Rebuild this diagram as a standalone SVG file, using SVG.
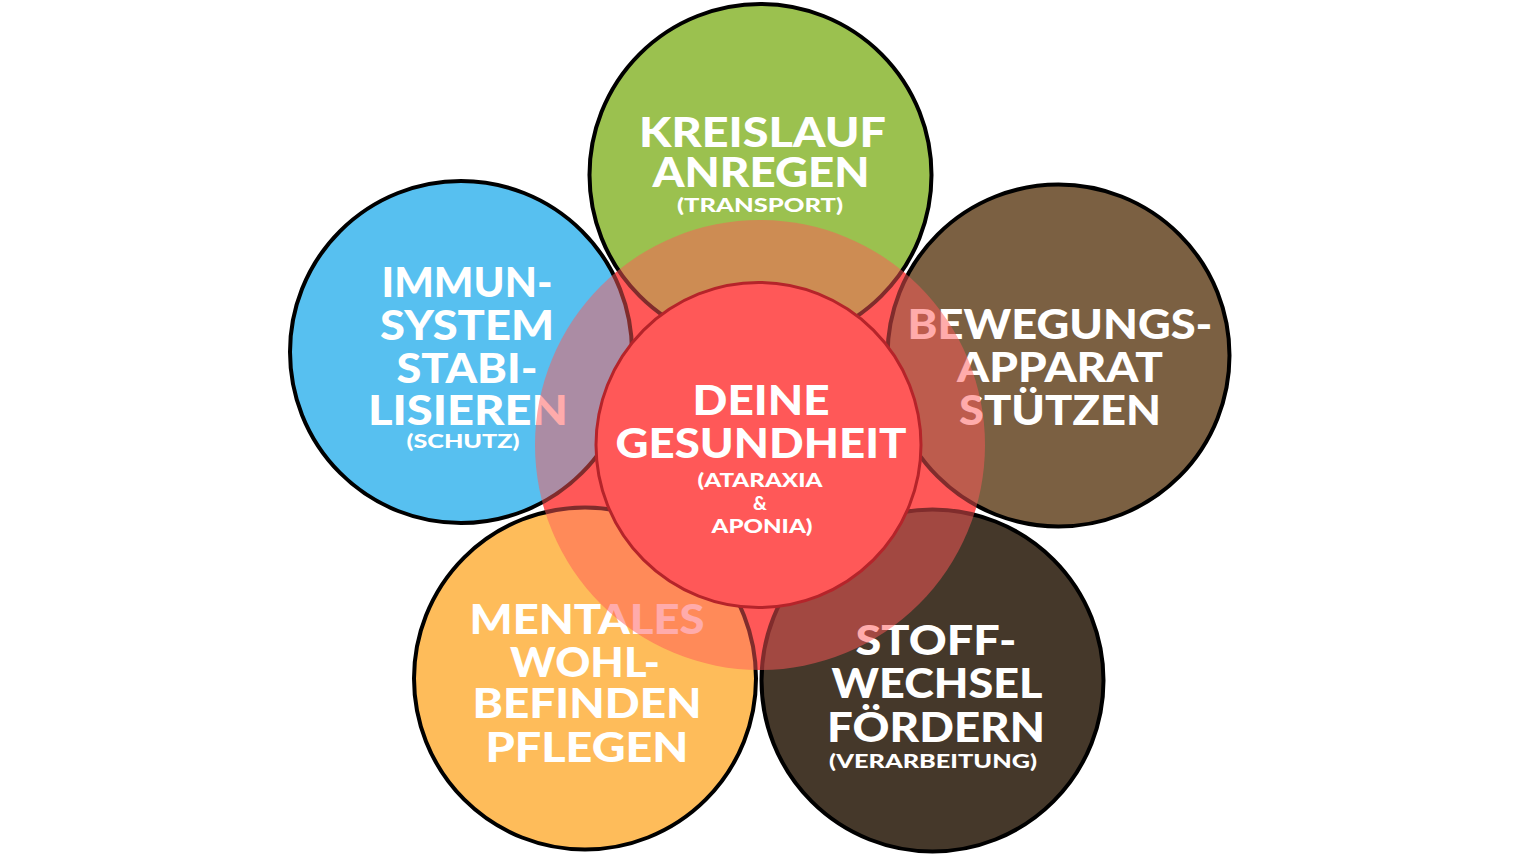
<svg xmlns="http://www.w3.org/2000/svg" width="1520" height="855" viewBox="0 0 1520 855">
  <style>
    .outer { stroke: #000; stroke-width: 4; }
    .t { font-family: Lato, "Liberation Sans", sans-serif; font-weight: 900; fill: #fff; text-anchor: middle; }
    .big { font-size: 41px; }
    .small { font-size: 19px; }
  </style>
  <rect width="1520" height="855" fill="#fff"/>
  <circle id="base-red" cx="760" cy="445" r="225" fill="#FF5858"/>

  <g id="node-kreislauf">
    <circle class="outer" cx="760.5" cy="175" r="171" fill="#9BC14F"/>
    <text class="t big" x="762.5" y="147" textLength="247" lengthAdjust="spacingAndGlyphs">KREISLAUF</text>
    <text class="t big" x="761" y="187" textLength="217" lengthAdjust="spacingAndGlyphs">ANREGEN</text>
    <text class="t small" x="760" y="212" textLength="166" lengthAdjust="spacingAndGlyphs">(TRANSPORT)</text>
  </g>

  <g id="node-immunsystem">
    <circle class="outer" cx="461" cy="352" r="171" fill="#57C0F0"/>
    <text class="t big" x="467" y="297" textLength="171" lengthAdjust="spacingAndGlyphs">IMMUN-</text>
    <text class="t big" x="467" y="340" textLength="174" lengthAdjust="spacingAndGlyphs">SYSTEM</text>
    <text class="t big" x="467" y="383" textLength="141" lengthAdjust="spacingAndGlyphs">STABI-</text>
    <text class="t big" x="468" y="425" textLength="200" lengthAdjust="spacingAndGlyphs">LISIEREN</text>
    <text class="t small" x="463" y="448" textLength="113" lengthAdjust="spacingAndGlyphs">(SCHUTZ)</text>
  </g>

  <g id="node-bewegungsapparat">
    <circle class="outer" cx="1058.5" cy="355.5" r="171" fill="#7B6042"/>
    <text class="t big" x="1060" y="339" textLength="305" lengthAdjust="spacingAndGlyphs">BEWEGUNGS-</text>
    <text class="t big" x="1060" y="382" textLength="206" lengthAdjust="spacingAndGlyphs">APPARAT</text>
    <text class="t big" x="1060" y="425" textLength="202" lengthAdjust="spacingAndGlyphs">STÜTZEN</text>
  </g>

  <g id="node-mentales">
    <circle class="outer" cx="585" cy="678.5" r="171" fill="#FEBC5A"/>
    <text class="t big" x="587" y="634" textLength="235" lengthAdjust="spacingAndGlyphs">MENTALES</text>
    <text class="t big" x="585" y="677" textLength="150" lengthAdjust="spacingAndGlyphs">WOHL-</text>
    <text class="t big" x="587" y="718" textLength="229" lengthAdjust="spacingAndGlyphs">BEFINDEN</text>
    <text class="t big" x="587" y="762" textLength="203" lengthAdjust="spacingAndGlyphs">PFLEGEN</text>
  </g>

  <g id="node-stoffwechsel">
    <circle class="outer" cx="932.5" cy="680.5" r="171" fill="#45382A"/>
    <text class="t big" x="936" y="655" textLength="161" lengthAdjust="spacingAndGlyphs">STOFF-</text>
    <text class="t big" x="937" y="698" textLength="211" lengthAdjust="spacingAndGlyphs">WECHSEL</text>
    <text class="t big" x="936" y="742" textLength="218" lengthAdjust="spacingAndGlyphs">FÖRDERN</text>
    <text class="t small" x="933" y="768" textLength="208" lengthAdjust="spacingAndGlyphs">(VERARBEITUNG)</text>
  </g>

  <circle id="overlay-red" cx="760" cy="445" r="225" fill="#FF5858" fill-opacity="0.5"/>

  <g id="node-gesundheit">
    <circle cx="758.5" cy="445" r="162.5" fill="#FF5858" stroke="#B5242A" stroke-width="3"/>
    <text class="t big" x="761" y="415" textLength="137" lengthAdjust="spacingAndGlyphs">DEINE</text>
    <text class="t big" x="761" y="458" textLength="291" lengthAdjust="spacingAndGlyphs">GESUNDHEIT</text>
    <text class="t small" x="760" y="487" textLength="125" lengthAdjust="spacingAndGlyphs">(ATARAXIA</text>
    <text class="t small" x="760" y="510">&amp;</text>
    <text class="t small" x="762" y="533" textLength="101" lengthAdjust="spacingAndGlyphs">APONIA)</text>
  </g>
</svg>
